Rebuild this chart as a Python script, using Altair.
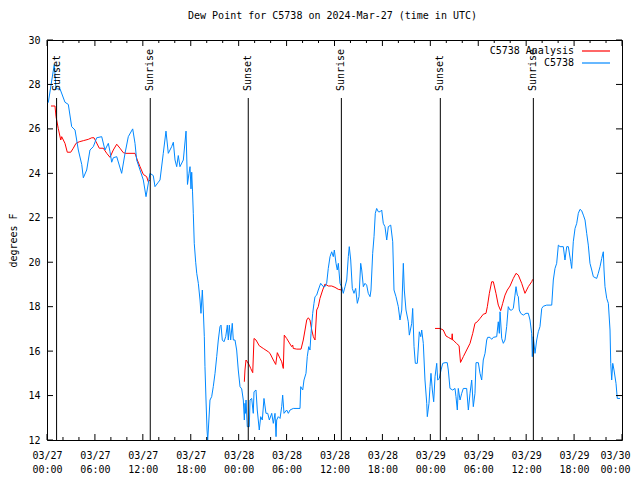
import json
import altair as alt
import pandas as pd

FONT = "DejaVu Sans Mono"
RED = "#ff0000"
BLUE = "#0088ff"

title_text = "Dew Point for C5738 on 2024-Mar-27 (time in UTC)"
y_title = "degrees F"
series_names = ["C5738 Analysis", "C5738"]

# x tick labels (hours since 03/27 00:00 UTC, every 6 h)
tick_dates = ["03/27"] * 4 + ["03/28"] * 4 + ["03/29"] * 4 + ["03/30"]
tick_times = ["00:00", "06:00", "12:00", "18:00"] * 3 + ["00:00"]

# sun events (hours since 03/27 00:00 UTC)
sun_hours = [1.2, 12.93, 25.2, 36.86, 49.25, 60.9]
sun_labels = ["Sunset", "Sunrise", "Sunset", "Sunrise", "Sunset", "Sunrise"]

# observed dew point (blue)
blue_hours = [
    0.16, 0.91, 1.13, 1.63, 2.25, 2.67, 3.09, 3.51, 3.92, 4.35,
    4.55, 4.97, 5.38, 5.80, 6.22, 6.85, 7.26, 7.68, 7.89, 8.10,
    8.30, 8.73, 9.35, 9.77, 10.18, 10.73, 11.02, 11.23, 11.65, 12.06,
    12.40, 12.90, 13.31, 13.52, 13.94, 14.15, 14.56, 14.90, 15.19, 15.61,
    15.82, 16.03, 16.24, 16.44, 16.65, 17.07, 17.41, 17.59, 17.78, 17.91,
    18.03, 18.12, 18.22, 18.32, 18.44, 18.62, 18.75, 18.95, 19.16, 19.28,
    19.45, 19.57, 19.70, 19.78, 19.91, 20.04, 20.12, 20.20, 20.41, 20.62,
    20.82, 21.04, 21.25, 21.45, 21.66, 21.79, 21.95, 22.16, 22.38, 22.58,
    22.70, 22.83, 23.00, 23.20, 23.33, 23.54, 23.75, 23.95, 24.17, 24.38,
    24.58, 24.71, 24.79, 24.86, 24.92, 25.08, 25.33, 25.42, 25.63, 25.83,
    25.92, 26.17, 26.33, 26.58, 26.76, 26.96, 27.17, 27.42, 27.64, 27.84,
    28.14, 28.34, 28.55, 28.68, 28.76, 28.96, 29.18, 29.39, 29.51, 29.68,
    30.01, 30.22, 30.43, 30.84, 31.68, 31.77, 32.02, 32.18, 32.43, 32.59,
    32.77, 32.93, 33.06, 33.27, 33.43, 33.56, 33.77, 33.97, 34.27, 34.60,
    34.81, 35.02, 35.22, 35.44, 35.65, 35.85, 35.98, 36.19, 36.35, 36.48,
    36.69, 36.90, 37.10, 37.32, 37.53, 37.73, 37.85, 38.03, 38.23, 38.44,
    38.65, 38.86, 39.07, 39.28, 39.41, 39.61, 39.82, 40.03, 40.23, 40.45,
    40.57, 40.78, 40.95, 41.11, 41.28, 41.49, 41.70, 41.91, 42.11, 42.32,
    42.54, 42.74, 43.04, 43.29, 43.45, 43.70, 43.99, 44.20, 44.42, 44.62,
    44.74, 44.95, 45.24, 45.37, 45.67, 45.79, 45.96, 46.12, 46.37, 46.62,
    46.80, 46.92, 47.12, 47.33, 47.55, 47.62, 47.83, 47.96, 48.08, 48.25,
    48.42, 48.59, 48.80, 48.92, 49.12, 49.34, 49.55, 49.84, 50.12, 50.25,
    50.46, 50.80, 51.09, 51.21, 51.38, 51.50, 51.72, 51.93, 52.13, 52.55,
    52.76, 52.97, 53.18, 53.38, 53.59, 53.72, 54.01, 54.22, 54.43, 54.63,
    54.85, 55.06, 55.18, 55.47, 55.68, 55.89, 56.31, 56.51, 56.64, 56.73,
    56.94, 57.14, 57.35, 57.56, 57.76, 57.98, 58.19, 58.39, 58.60, 58.73,
    58.89, 59.02, 59.14, 59.32, 59.64, 59.98, 60.27, 60.48, 60.69, 60.77,
    60.89, 61.11, 61.32, 61.52, 61.73, 61.95, 62.15, 62.57, 63.20, 63.40,
    63.61, 63.82, 64.03, 64.24, 64.65, 64.86, 65.08, 65.28, 65.58, 65.70,
    65.90, 66.12, 66.33, 66.53, 66.74, 66.95, 67.16, 67.37, 67.58, 67.78,
    67.99, 68.21, 68.41, 68.83, 69.03, 69.25, 69.46, 69.66, 69.75, 69.87,
    70.09, 70.29, 70.50, 70.59, 70.71, 70.84, 71.00, 71.25, 71.41, 71.75,
]
blue_dewpt = [
    27.18, 28.9, 27.8, 27.8, 27.2, 27.1, 26.1, 25.95, 25.05, 24.4,
    23.8, 24.15, 25.05, 25.2, 25.6, 25.65, 25.05, 25.35, 24.97, 24.5,
    24.7, 24.75, 24.0, 24.9, 25.65, 26.0, 25.35, 24.6, 24.15, 23.7,
    22.95, 24.0, 23.9, 23.4, 23.6, 23.7, 24.9, 25.9, 24.9, 25.2,
    25.4, 24.6, 24.3, 24.8, 24.3, 24.6, 25.9, 23.5, 24.0, 24.3,
    23.3, 24.05, 23.2, 22.2, 20.85, 20.0, 19.5, 19.05, 18.3, 17.7,
    18.75, 17.85, 16.65, 15.3, 13.8, 12.45, 12.0, 12.45, 13.8, 13.95,
    14.4, 15.0, 15.75, 16.5, 17.1, 17.17, 16.5, 16.42, 16.65, 17.17,
    16.5, 17.17, 16.5, 17.25, 16.5, 16.5, 16.05, 15.15, 14.4, 14.3,
    13.8, 12.9, 13.65, 13.2, 13.8, 12.6, 12.6, 13.8, 13.87, 13.2,
    14.17, 14.25, 13.35, 12.45, 13.05, 12.9, 13.87, 13.2, 13.2, 12.9,
    13.2, 12.75, 13.2, 12.15, 12.9, 13.05, 12.97, 13.5, 14.02, 13.2,
    13.35, 13.2, 13.35, 13.42, 13.42, 14.4, 14.25, 14.7, 15.0, 15.75,
    16.2, 16.05, 16.8, 17.7, 18.15, 18.45, 18.52, 18.75, 19.05, 18.9,
    18.9, 19.05, 19.72, 20.25, 20.47, 20.25, 20.55, 19.95, 19.65, 19.95,
    19.05, 18.9, 18.6, 18.9, 19.2, 20.25, 20.7, 20.1, 18.82, 18.6,
    18.82, 18.15, 18.45, 19.95, 19.65, 18.9, 19.05, 18.97, 18.6, 18.45,
    18.75, 20.4, 21.15, 22.2, 22.42, 22.27, 22.27, 22.35, 21.75, 21.6,
    21.0, 21.6, 21.67, 20.92, 18.75, 18.45, 18.0, 17.4, 17.85, 19.95,
    18.75, 17.85, 17.32, 16.72, 17.25, 17.92, 16.2, 15.45, 15.45, 16.87,
    16.65, 16.95, 16.35, 14.7, 13.65, 13.05, 13.65, 14.4, 15.0, 14.25,
    13.72, 14.85, 15.45, 14.7, 14.77, 15.15, 15.45, 15.48, 15.48, 15.15,
    14.32, 14.25, 14.32, 13.95, 13.35, 14.32, 13.8, 14.1, 14.32, 14.32,
    13.35, 14.1, 14.7, 13.5, 14.1, 15.48, 15.48, 15.0, 14.7, 15.6,
    15.9, 16.5, 16.62, 16.62, 16.53, 16.62, 16.65, 17.32, 16.8, 17.77,
    16.57, 16.35, 16.5, 17.1, 18.0, 17.85, 17.85, 17.92, 18.52, 18.9,
    18.52, 18.45, 17.85, 17.7, 17.62, 17.7, 17.7, 17.4, 16.8, 15.75,
    16.65, 15.9, 16.5, 16.87, 17.1, 17.92, 18.02, 18.07, 18.07, 19.2,
    19.72, 19.95, 20.77, 20.7, 20.7, 20.1, 20.7, 20.7, 20.02, 19.72,
    20.92, 21.52, 21.75, 22.2, 22.38, 22.32, 22.12, 21.9, 21.3, 20.77,
    19.95, 19.65, 19.35, 19.27, 19.5, 19.8, 20.17, 20.47, 19.65, 18.9,
    18.37, 18.15, 16.95, 15.45, 14.7, 15.45, 15.15, 14.55, 13.87, 13.87,
]

# analysis dew point (red), three separate runs
red1_hours = [0.50, 1.00, 1.13, 1.41, 1.72, 1.84, 2.25, 2.54, 2.97, 3.29,
              3.63, 4.04, 4.55, 5.17, 5.60, 5.89, 6.14, 6.55, 7.05, 7.48,
              7.89, 8.30, 8.73, 9.14, 9.55, 9.89, 11.02, 11.31, 11.65, 12.06,
              12.48, 12.68, 12.90]
red1_dewpt = [27.03, 27.03, 26.55, 26.02, 25.5, 25.65, 25.35, 24.95, 24.95, 25.13,
              25.35, 25.42, 25.47, 25.53, 25.6, 25.6, 25.42, 25.13, 25.13, 24.9,
              24.72, 25.05, 25.31, 25.13, 24.93, 24.9, 24.9, 24.6, 24.3, 23.95,
              23.85, 23.62, 23.7]
red2_hours = [24.71, 24.79, 24.92, 25.08, 25.33, 25.51, 25.76, 25.92, 26.17, 26.58,
              27.08, 27.71, 27.92, 28.34, 28.64, 28.84, 29.18, 29.39, 29.59, 29.71,
              30.01, 30.43, 30.64, 30.77, 30.84, 31.27, 31.81, 32.09, 32.31, 32.52,
              32.72, 32.93, 33.15, 33.35, 33.56, 33.77, 33.97, 34.18, 34.52, 34.81,
              35.22, 35.65, 36.06, 36.48, 36.90]
red2_dewpt = [14.62, 15.15, 15.6, 15.52, 15.37, 15.22, 15.03, 16.57, 16.5, 16.24,
              16.12, 15.97, 15.9, 15.6, 15.4, 15.93, 15.67, 15.52, 15.22, 16.72,
              16.57, 16.32, 16.2, 16.27, 16.12, 16.09, 16.09, 16.5, 16.95, 17.4,
              17.5, 17.4, 16.95, 16.65, 16.5, 17.85, 18.0, 18.37, 18.75, 19.02,
              18.93, 18.93, 18.87, 18.78, 18.75]
red3_hours = [48.59, 49.21, 49.62, 49.96, 50.25, 50.68, 50.74, 50.79, 50.85, 51.27,
              51.60, 51.78, 52.13, 52.55, 52.97, 53.31, 53.59, 53.88, 54.22, 54.63,
              54.97, 55.14, 55.39, 55.68, 55.89, 56.22, 56.51, 56.81, 57.06, 57.35,
              57.64, 57.98, 58.39, 58.73, 59.02, 59.44, 59.85, 60.27, 60.69, 60.82]
red3_dewpt = [17.02, 17.02, 16.95, 16.68, 16.62, 16.53, 16.78, 16.5, 16.5, 16.35,
              16.24, 15.49, 15.75, 16.05, 16.35, 16.8, 17.25, 17.32, 17.47, 17.66,
              17.7, 18.0, 18.6, 19.12, 19.12, 18.6, 18.07, 17.82, 18.15, 18.52,
              18.75, 18.93, 19.27, 19.5, 19.42, 19.05, 18.6, 18.9, 19.12, 19.23]

assert len(blue_hours) == len(blue_dewpt)

df_blue = pd.DataFrame({"hour": blue_hours, "dewpt": blue_dewpt})
df_red = pd.concat([
    pd.DataFrame({"hour": red1_hours, "dewpt": red1_dewpt, "seg": "a"}),
    pd.DataFrame({"hour": red2_hours, "dewpt": red2_dewpt, "seg": "b"}),
    pd.DataFrame({"hour": red3_hours, "dewpt": red3_dewpt, "seg": "c"}),
])
df_sun = pd.DataFrame({"hour": sun_hours, "label": sun_labels})
major_hours = list(range(0, 73, 6))
minor_hours = [h for h in range(0, 73, 2) if h % 6 != 0]
df_xmaj = pd.DataFrame({"hour": major_hours})
df_xmin = pd.DataFrame({"hour": minor_hours})
df_yt = pd.DataFrame({"dewpt": list(range(12, 31, 2))})
one = pd.DataFrame({"k": [0]})

label_expr = ("[" + json.dumps(tick_dates) + "[round(datum.value/6)], "
              + json.dumps(tick_times) + "[round(datum.value/6)]]")

x_scale = alt.Scale(domain=[0, 72], nice=False, zero=False)
y_scale = alt.Scale(domain=[12, 30], nice=False, zero=False)

x_axis = alt.Axis(values=major_hours, labelExpr=label_expr, title="", ticks=False,
                  domain=False, grid=False, labelFont=FONT, labelFontSize=10,
                  labelColor="black", labelPadding=10, labelLineHeight=14,
                  labelFlush=False, labelOverlap=False,
                  labelOffset={"condition": {"test": "datum.value >= 72", "value": -7},
                               "value": 0})
y_axis = alt.Axis(values=list(range(12, 31, 2)), title=y_title, titleX=-34, titleY=200,
                  titleAngle=270, titleAlign="center", titleBaseline="middle",
                  titleFont=FONT, titleFontSize=10, titleFontWeight="normal",
                  titleColor="black", ticks=False, domain=False, grid=False,
                  labelFont=FONT, labelFontSize=10, labelColor="black", labelPadding=7)

X = alt.X("hour:Q", scale=x_scale, axis=x_axis)
Y = alt.Y("dewpt:Q", scale=y_scale, axis=y_axis)

red = alt.Chart(df_red).mark_line(color=RED, strokeWidth=1, clip=True).encode(
    x=X, y=Y, detail="seg:N")
blue = alt.Chart(df_blue).mark_line(color=BLUE, strokeWidth=1, clip=True).encode(x=X, y=Y)

sun_rules = alt.Chart(df_sun).mark_rule(color="black", strokeWidth=1).encode(
    x=X, y=alt.value(58), y2=alt.value(400))
sun_text = alt.Chart(df_sun).mark_text(angle=270, align="left", baseline="middle",
                                       font=FONT, fontSize=10, color="black", dx=1).encode(
    x=X, y=alt.value(52), text="label:N")

tick = lambda df: alt.Chart(df).mark_rule(color="black", strokeWidth=1)
xb_maj = tick(df_xmaj).encode(x=X, y=alt.value(400), y2=alt.value(394))
xt_maj = tick(df_xmaj).encode(x=X, y=alt.value(0), y2=alt.value(6))
xb_min = tick(df_xmin).encode(x=X, y=alt.value(400), y2=alt.value(397))
xt_min = tick(df_xmin).encode(x=X, y=alt.value(0), y2=alt.value(3))
yl = tick(df_yt).encode(y=Y, x=alt.value(0), x2=alt.value(6))
yr = tick(df_yt).encode(y=Y, x=alt.value(575), x2=alt.value(569))

leg_layers = []
for name, col, ypix in zip(series_names, [RED, BLUE], [11, 23]):
    leg_layers.append(alt.Chart(one).mark_text(align="right", baseline="middle", font=FONT,
                                               fontSize=10, color="black").encode(
        x=alt.value(527), y=alt.value(ypix), text=alt.value(name)))
    leg_layers.append(alt.Chart(one).mark_rule(color=col, strokeWidth=1.2).encode(
        x=alt.value(535), x2=alt.value(563), y=alt.value(ypix)))

chart = alt.layer(
    red, blue, sun_rules, sun_text, xb_maj, xt_maj, xb_min, xt_min, yl, yr, *leg_layers
).properties(
    width=575, height=400,
    title=alt.TitleParams(text=title_text, font=FONT, fontSize=10, fontWeight="normal",
                          color="black", anchor="middle", frame="group", offset=14,
                          dx=-2),
    autosize=alt.AutoSizeParams(type="none"),
    padding={"left": 39, "top": 32, "right": 10, "bottom": 38},
).configure_view(stroke="black", strokeWidth=1)

chart.save("out.html", embed_options={"renderer": "svg", "actions": False})
